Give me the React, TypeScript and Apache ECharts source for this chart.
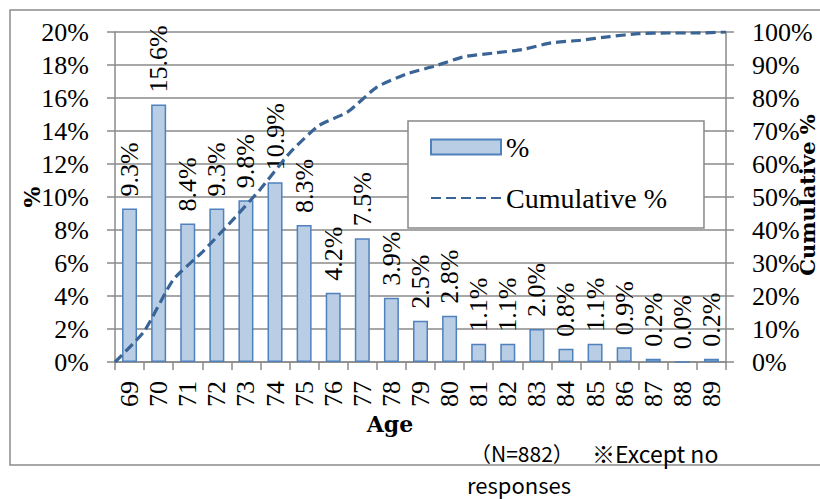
import React, { useEffect, useRef } from "react";
import * as echarts from "echarts";

const ages = ["69","70","71","72","73","74","75","76","77","78","79","80","81","82","83","84","85","86","87","88","89"];
const percentValues = [9.3, 15.6, 8.4, 9.3, 9.8, 10.9, 8.3, 4.2, 7.5, 3.9, 2.5, 2.8, 1.1, 1.1, 2.0, 0.8, 1.1, 0.9, 0.2, 0.0, 0.2];
// cumulative values at category boundaries (first point = start of the axis)
const cumulativeValues = [0, 9.3, 24.9, 33.3, 42.6, 52.4, 63.3, 71.6, 75.8, 83.3, 87.2, 89.7, 92.5, 93.6, 94.7, 96.7, 97.5, 98.6, 99.5, 99.7, 99.7, 100];
const cumulativeSlots = ["", ...ages];
const leftTicks = { min: 0, max: 20, interval: 2 };
const rightTicks = { min: 0, max: 100, interval: 10 };

const SERIF = "Liberation Serif";
const SERIF_BOLD = "'DejaVu Serif', 'Liberation Serif', serif";
const SANS = "'Noto Sans CJK JP', sans-serif";
const GRID = "#8a8a8a";
const FS = 26;

export default function App() {
  const ref = useRef<HTMLDivElement>(null);
  useEffect(() => {
    document.body.style.margin = "0";
    const chart = echarts.init(ref.current!, null, { renderer: "svg" });
    chart.setOption({
      animation: false,
      backgroundColor: "#fff",
      textStyle: { fontFamily: SERIF },
      grid: { left: 115, right: 94, top: 32, bottom: 137, containLabel: false },
      legend: {
        orient: "vertical",
        left: 408,
        top: 121,
        backgroundColor: "#fff",
        borderColor: "#888",
        borderWidth: 1.5,
        padding: [12, 37, 16, 22],
        itemWidth: 70,
        itemHeight: 15,
        itemGap: 23,
        itemTextGap: 6,
        textStyle: { fontFamily: SERIF, fontSize: 28, color: "#000", lineHeight: 28 },
        data: [
          { name: "%", icon: "rect" },
          { name: "Cumulative %", itemStyle: { opacity: 0 } },
        ],
      },
      xAxis: [
        {
          type: "category",
          data: ages,
          boundaryGap: true,
          offset: 8,
          axisLine: { show: true, lineStyle: { color: GRID, width: 1.5 } },
          axisTick: { show: true, interval: 0, length: 8, lineStyle: { color: GRID, width: 1.5 } },
          axisLabel: { interval: 0, rotate: 90, margin: 11, fontFamily: SERIF, fontSize: FS, color: "#000" },
          splitLine: { show: false },
        },
        {
          type: "category",
          data: cumulativeSlots,
          boundaryGap: false,
          show: false,
        },
      ],
      yAxis: [
        {
          type: "value",
          ...leftTicks,
          axisLine: { show: true, lineStyle: { color: GRID, width: 1.5 } },
          axisTick: { show: true, length: 8, lineStyle: { color: GRID, width: 1.5 } },
          axisLabel: { formatter: "{value}%", margin: 26, fontFamily: SERIF, fontSize: FS, color: "#000" },
          splitLine: { show: true, lineStyle: { color: GRID, width: 1.5 } },
        },
        {
          type: "value",
          ...rightTicks,
          position: "right",
          axisLine: { show: true, lineStyle: { color: GRID, width: 1.5 } },
          axisTick: { show: true, length: 8, lineStyle: { color: GRID, width: 1.5 } },
          axisLabel: { formatter: "{value}%", margin: 26, fontFamily: SERIF, fontSize: FS, color: "#000" },
          splitLine: { show: false },
        },
      ],
      series: [
        {
          name: "%",
          type: "bar",
          data: percentValues,
          barWidth: 15,
          itemStyle: { color: "#B9CDE5", borderColor: "#4F81BD", borderWidth: 1.5 },
          label: {
            show: true,
            position: "top",
            rotate: 90,
            distance: 12,
            align: "left",
            verticalAlign: "middle",
            formatter: (p: any) => Number(p.value).toFixed(1) + "%",
            fontFamily: SERIF,
            fontSize: FS,
            color: "#000",
          },
        },
        {
          name: "Cumulative %",
          type: "line",
          xAxisIndex: 1,
          yAxisIndex: 1,
          data: cumulativeValues,
          symbol: "none",
          smooth: 0.2,
          lineStyle: { color: "#3A6496", width: 3.2, type: [10, 5] },
          itemStyle: { color: "#3A6496" },
        },
      ],
      graphic: [
        {
          type: "rect",
          z: -10,
          shape: { x: 10, y: 10, width: 840, height: 455 },
          style: { fill: "none", stroke: "#8c8c8c", lineWidth: 1.5 },
        },
        {
          type: "text",
          x: 32,
          y: 197,
          rotation: Math.PI / 2,
          style: { text: "%", font: `bold 22px ${SERIF_BOLD}`, fill: "#000", align: "center", verticalAlign: "middle" },
        },
        {
          type: "text",
          x: 390,
          y: 424,
          style: { text: "Age", font: `bold 22px ${SERIF_BOLD}`, fill: "#000", align: "center", verticalAlign: "middle" },
        },
        {
          type: "text",
          x: 807,
          y: 195,
          rotation: Math.PI / 2,
          style: { text: "Cumulative %", font: `bold 21px ${SERIF_BOLD}`, fill: "#000", align: "center", verticalAlign: "middle" },
        },
        {
          type: "text",
          x: 470,
          y: 453,
          style: { text: "（N=882）", font: `21px ${SANS}`, fill: "#000", align: "left", verticalAlign: "middle" },
        },
        {
          type: "text",
          x: 592,
          y: 453,
          style: { text: "※Except no", font: `23px ${SANS}`, fill: "#000", align: "left", verticalAlign: "middle" },
        },
        {
          type: "text",
          x: 467,
          y: 484,
          style: { text: "responses", font: `22px ${SANS}`, fill: "#000", align: "left", verticalAlign: "middle" },
        },
      ],
    });
    return () => chart.dispose();
  }, []);
  return <div ref={ref} style={{ width: 820, height: 499 }} />;
}
